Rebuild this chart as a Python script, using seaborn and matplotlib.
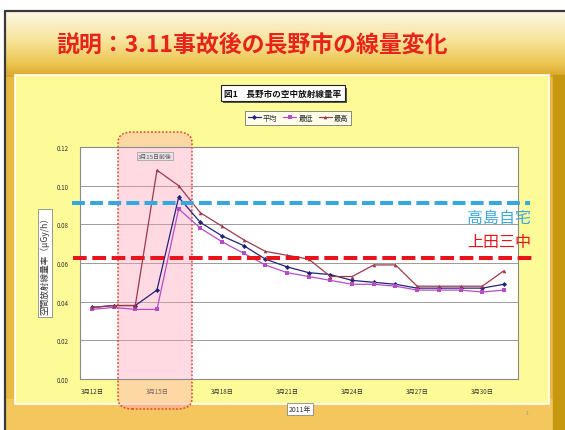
import numpy as np
import pandas as pd
import matplotlib
matplotlib.use("Agg")
import matplotlib.pyplot as plt
import seaborn as sns
from matplotlib.patches import Rectangle, FancyBboxPatch
from matplotlib.colors import LinearSegmentedColormap
import matplotlib.patheffects as pe
import matplotlib.transforms as mtransforms

# ---------------- data ----------------
dates = ["3月12日", "3月13日", "3月14日", "3月15日", "3月16日", "3月17日", "3月18日",
         "3月19日", "3月20日", "3月21日", "3月22日", "3月23日", "3月24日", "3月25日",
         "3月26日", "3月27日", "3月28日", "3月29日", "3月30日", "3月31日"]
avg_vals = [0.037, 0.038, 0.038, 0.046, 0.094, 0.081, 0.074, 0.069, 0.062, 0.058,
            0.055, 0.054, 0.051, 0.050, 0.049, 0.047, 0.047, 0.047, 0.047, 0.049]
min_vals = [0.036, 0.037, 0.036, 0.036, 0.088, 0.078, 0.071, 0.065, 0.059, 0.055,
            0.053, 0.051, 0.049, 0.049, 0.048, 0.046, 0.046, 0.046, 0.045, 0.046]
max_vals = [0.037, 0.038, 0.038, 0.108, 0.100, 0.086, 0.079, 0.072, 0.066, 0.064,
            0.062, 0.053, 0.053, 0.059, 0.059, 0.048, 0.048, 0.048, 0.048, 0.056]
series_names = ["平均", "最低", "最高"]
yticks = [0.00, 0.02, 0.04, 0.06, 0.08, 0.10, 0.12]
ref_takashima = 0.091
ref_ueda = 0.0625
label_takashima = "高島自宅"
label_ueda = "上田三中"

rows = []
for name, vals in zip(series_names, [avg_vals, min_vals, max_vals]):
    for i, v in enumerate(vals):
        rows.append({"day": i, "date": dates[i], "value": v, "series": name})
df = pd.DataFrame(rows)

# ---------------- style ----------------
sns.set_style("white")
plt.rcParams["font.family"] = ["Noto Sans CJK JP", "DejaVu Sans"]

W, H = 565, 431
fig = plt.figure(figsize=(W / 100, H / 100), dpi=100)
fig.patch.set_facecolor("white")

def fx(x):
    return x / W

def fy(y):
    return 1 - y / H

# ---------------- slide background ----------------
bg = fig.add_axes([0, 0, 1, 1], zorder=-10)
bg.set_xlim(0, W)
bg.set_ylim(H, 0)
bg.axis("off")
cmap = LinearSegmentedColormap.from_list(
    "g", [(0, "#fdf8e6"), (0.45, "#f7e49a"), (0.8, "#ecc551"), (1, "#d9a62c")])
bg.add_patch(Rectangle((5, 76), W - 5, H - 76, color="#eab943", zorder=0))
bg.imshow(np.linspace(0, 1, 200).reshape(-1, 1), cmap=cmap, aspect="auto",
          extent=[5, W, 78, 12], zorder=1)
bg.add_patch(Rectangle((5, 400), W - 5, 31, color="#f3c65e", zorder=1))
bg.add_patch(Rectangle((553, 76), 12, H - 76, color="#c6980f", zorder=2))
bg.plot([5, W], [12, 12], color="#3a3a3a", lw=1.6, zorder=3)
bg.plot([5, 5], [12, H], color="#3a3a3a", lw=1.6, zorder=3)
# light yellow chart panel
bg.add_patch(Rectangle((15, 76), 534, 329, facecolor="#fdfb98",
                       edgecolor="white", lw=1.2, zorder=4))

fig.text(fx(252), fy(45), "説明：3.11事故後の長野市の線量変化", color="#e8231b",
         fontsize=16.5, fontweight="bold", ha="center", va="center")

# ---------------- main axes ----------------
ax = fig.add_axes([fx(80), fy(380), 438 / W, 232 / H])
palette = {"平均": "#23237a", "最低": "#b64cc6", "最高": "#9c3a4c"}
sns.lineplot(data=df, x="day", y="value", hue="series", style="series",
             hue_order=series_names, style_order=series_names,
             palette=palette, markers=["D", "s", "^"], dashes=False,
             markersize=2.6, markeredgewidth=0, linewidth=0.9, ax=ax, zorder=3)
ax.set_facecolor("white")
ax.set_xlim(-0.55, 19.65)
ax.set_ylim(0, 0.12)
ax.set_yticks(yticks)
ax.set_yticklabels([f"{v:.2f}" for v in yticks], fontsize=4.5, color="#333333")
ax.yaxis.grid(True, color="#9a9a9a", lw=0.7)
ax.xaxis.grid(False)
ax.set_xticks([2.5, 5.5, 8.5, 11.5, 14.5, 17.5])
ax.set_xticklabels([])
ax.set_xticks(list(range(0, 19, 3)), minor=True)
ax.set_xticklabels([dates[i] for i in range(0, 19, 3)], minor=True,
                   fontsize=4.5, color="#333333")
ax.tick_params(axis="x", which="major", length=2.5, color="#888888", width=0.7)
ax.tick_params(axis="x", which="minor", length=0, pad=6)
ax.tick_params(axis="y", length=0, pad=8)
ax.set_xlabel("")
ax.set_ylabel("")
for s in ax.spines.values():
    s.set_color("#8a8a8a")
    s.set_linewidth(0.8)

sns.move_legend(ax, "center", bbox_to_anchor=((298 - 80) / 438, (380 - 119) / 232),
                ncol=3, title=None, frameon=True, fontsize=5.2,
                handlelength=1.8, handletextpad=0.3, columnspacing=0.8,
                borderpad=0.35, fancybox=False, edgecolor="#555555")
leg = ax.get_legend()
leg.get_frame().set_linewidth(0.6)

# highlighted period (rounded box spanning below/above plot)
tr_fig = fig.transFigure
box = FancyBboxPatch((fx(118), fy(410)), fx(192) - fx(118), fy(133) - fy(410),
                     boxstyle="round,pad=0,rounding_size=0.025",
                     transform=tr_fig, facecolor="#ff9fb4", alpha=0.38,
                     edgecolor="none", zorder=1, clip_on=False)
ax.add_patch(box)
box_edge = FancyBboxPatch((fx(118), fy(410)), fx(192) - fx(118), fy(133) - fy(410),
                          boxstyle="round,pad=0,rounding_size=0.025",
                          transform=tr_fig, facecolor="none",
                          edgecolor="#e2452e", lw=1.1, linestyle=(0, (1.2, 1.2)),
                          zorder=1.1, clip_on=False)
ax.add_patch(box_edge)
fig.text(fx(155), fy(157), "3月15日前後", fontsize=4.3, color="#555555",
         ha="center", va="center",
         bbox=dict(boxstyle="square,pad=0.25", fc="#e9e2e4", ec="#999999", lw=0.5))

# reference dashed lines
trans = mtransforms.blended_transform_factory(ax.transAxes, ax.transData)
ax.plot([(72 - 80) / 438, (530 - 80) / 438], [ref_takashima, ref_takashima],
        transform=trans, color="#35a8e0", lw=2.9, dashes=(3.2, 1.3),
        clip_on=False, zorder=5, solid_capstyle="butt")
ax.plot([(73 - 80) / 438, (532 - 80) / 438], [ref_ueda, ref_ueda],
        transform=trans, color="#e8141c", lw=2.9, dashes=(3.4, 1.4),
        clip_on=False, zorder=5)
fig.text(fx(531), fy(218), label_takashima, color="#3ea9df", fontsize=11.5,
         ha="right", va="center")
fig.text(fx(531), fy(243), label_ueda, color="#e8141c", fontsize=11.5,
         ha="right", va="center")

# chart title with shadow
t = fig.text(fx(283), fy(94), "図1　長野市の空中放射線量率", fontsize=6.2,
             fontweight="bold", ha="center", va="center", color="#111111",
             bbox=dict(boxstyle="square,pad=0.35", fc="white", ec="#222222", lw=0.8))
t.get_bbox_patch().set_path_effects([pe.withSimplePatchShadow(offset=(1.5, -1.5),
                                                                shadow_rgbFace="#333333",
                                                                alpha=0.8)])

# axis titles
fig.text(fx(45), fy(264), "空間放射線量率（μGy/h）", fontsize=6.2, rotation=90,
         ha="center", va="center", color="#333333",
         bbox=dict(boxstyle="square,pad=0.3", fc="white", ec="#888888", lw=0.6))
fig.text(fx(300), fy(410), "2011年", fontsize=5, ha="center", va="center",
         color="#333333",
         bbox=dict(boxstyle="square,pad=0.3", fc="white", ec="#888888", lw=0.6))
fig.text(fx(527), fy(414), "1", fontsize=4, color="#999999", ha="center", va="center")

fig.savefig("out.png", dpi=100)
